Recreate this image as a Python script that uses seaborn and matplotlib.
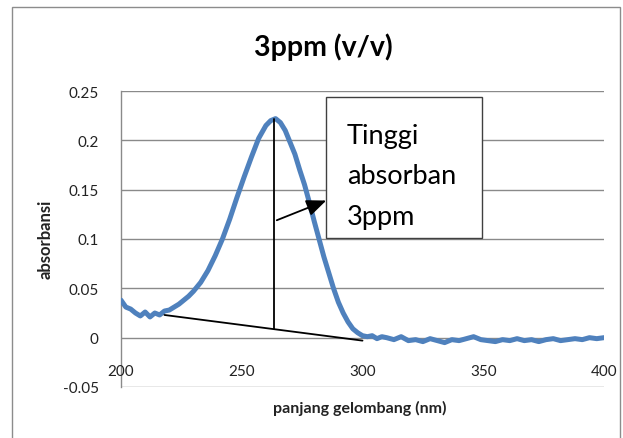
import matplotlib
matplotlib.use("Agg")
import matplotlib.pyplot as plt
import seaborn as sns
import pandas as pd
from matplotlib.patches import Rectangle

# ---- data ----
wavelength = [200, 202, 204, 206, 208, 210, 212, 214, 216, 218, 220, 222, 224, 226, 228,
              230, 233, 236, 239, 242, 245, 248, 251, 254, 257, 260, 262, 264, 266, 268,
              270, 272, 274, 276, 278, 280, 282, 284, 286, 288, 290, 292, 294, 296, 298,
              300, 302, 304, 306, 308, 310, 313, 316, 319, 322, 325, 328, 331, 334, 337,
              340, 343, 346, 349, 352, 355, 358, 361, 364, 367, 370, 373, 376, 379, 382,
              385, 388, 391, 394, 397, 400]
absorbance = [0.038, 0.031, 0.029, 0.025, 0.022, 0.026, 0.021, 0.025, 0.023, 0.027, 0.028,
              0.031, 0.034, 0.038, 0.042, 0.047, 0.056, 0.068, 0.083, 0.100, 0.120, 0.142,
              0.163, 0.183, 0.202, 0.215, 0.220, 0.222, 0.218, 0.210, 0.198, 0.186, 0.170,
              0.155, 0.137, 0.118, 0.100, 0.082, 0.066, 0.050, 0.036, 0.025, 0.016, 0.009,
              0.005, 0.002, 0.001, 0.002, -0.001, 0.001, 0.000, -0.002, 0.001, -0.003, -0.002,
              -0.004, -0.001, -0.003, -0.005, -0.002, -0.003, -0.001, 0.001, -0.002, -0.003,
              -0.004, -0.002, -0.003, -0.001, -0.003, -0.002, -0.004, -0.002, -0.001, -0.003,
              -0.002, -0.001, -0.002, 0.000, -0.001, 0.000]
x_ticks = [200, 250, 300, 350, 400]
y_ticks = [-0.05, 0, 0.05, 0.1, 0.15, 0.2, 0.25]
y_tick_labels = ["-0.05", "0", "0.05", "0.1", "0.15", "0.2", "0.25"]

# annotation geometry (data units)
peak_x, peak_top, peak_bottom = 263.5, 0.222, 0.009
base_x = [218, 300]
base_y = [0.023, -0.003]
arrow_start = (264.5, 0.119)
arrow_end = (285.0, 0.139)
box_x0, box_x1, box_y0, box_y1 = 285.0, 349.6, 0.101, 0.244

title = "3ppm (v/v)"
xlabel = "panjang gelombang (nm)"
ylabel = "absorbansi"
box_text = "Tinggi\nabsorban\n3ppm"

sns.set_style("white")
plt.rcParams["font.family"] = ["Lato", "DejaVu Sans"]

fig = plt.figure(figsize=(6.23, 4.39), dpi=100)
ax = fig.add_axes([121 / 623, 1 - 388 / 439, (604 - 121) / 623, (388 - 92) / 439])

# outer chart border (bottom edge falls outside the image)
fig.patches.append(Rectangle((12 / 623, -5 / 439), 608 / 623, 436 / 439, transform=fig.transFigure,
                             fill=False, edgecolor="#8c8c8c", linewidth=1.0))

df = pd.DataFrame({"wavelength": wavelength, "absorbance": absorbance})
sns.lineplot(data=df, x="wavelength", y="absorbance", ax=ax, color="#4f81bd",
             linewidth=3.6, zorder=3)

ax.set_xlim(200, 400)
ax.set_ylim(-0.05, 0.25)
ax.set_yticks(y_ticks)
ax.set_yticklabels(y_tick_labels)
ax.set_xticks(x_ticks)
ax.set_xticklabels([])
for t in x_ticks:
    ax.text(t, -0.034, str(t), ha="center", va="center", fontsize=11, color="#222222")

for yv in y_ticks:
    ax.axhline(yv, color="#8a8a8a", linewidth=1.0, zorder=1)

for s in ["top", "right", "bottom"]:
    ax.spines[s].set_visible(False)
ax.spines["left"].set_color("#8a8a8a")
ax.spines["left"].set_linewidth(1.0)
ax.tick_params(axis="y", length=0, labelsize=11, pad=16, labelcolor="#222222")
ax.tick_params(axis="x", length=0)
ax.set_xlabel("")
ax.set_ylabel("")
ax.grid(False)

# annotations
ax.plot([peak_x, peak_x], [peak_bottom, peak_top], color="black", linewidth=1.3, zorder=4)
ax.plot(base_x, base_y, color="black", linewidth=1.3, zorder=4)
ax.annotate("", xy=arrow_end, xytext=arrow_start,
            arrowprops=dict(arrowstyle="-|>,head_length=1.2,head_width=0.5", color="black",
                            linewidth=1.3, shrinkA=0, shrinkB=0), zorder=5)
ax.add_patch(Rectangle((box_x0, box_y0), box_x1 - box_x0, box_y1 - box_y0,
                       facecolor="white", edgecolor="#404040", linewidth=1.0, zorder=4))
ax.text(box_x0 + 8.5, box_y1 - 0.026, box_text, ha="left", va="top", fontsize=19.5,
        linespacing=1.78, color="black", zorder=6)

fig.text(323 / 623, 1 - 47 / 439, title, ha="center", va="center", fontsize=20.5,
         fontweight="bold", color="black")
fig.text(360 / 623, 1 - 408 / 439, xlabel, ha="center", va="center", fontsize=11.5,
         fontweight="bold", color="#222222")
fig.text(46 / 623, 1 - 239 / 439, ylabel, ha="center", va="center", fontsize=12,
         fontweight="bold", rotation=90, color="#222222")

fig.savefig("out.png", dpi=100)
